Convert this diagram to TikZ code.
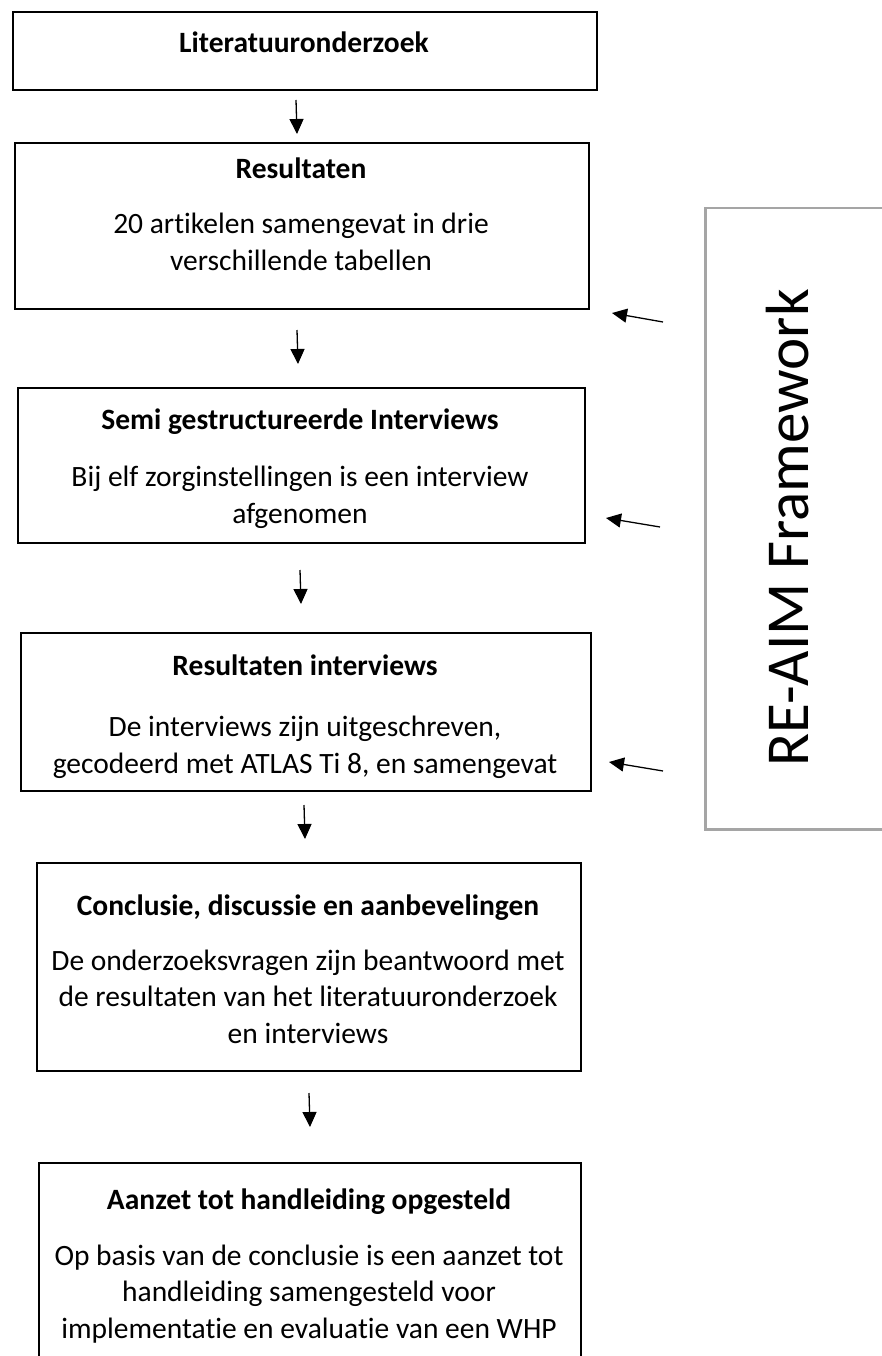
\documentclass[tikz,border=0pt]{standalone}
\usepackage{fontspec}
\setmainfont{Carlito}[Ligatures=CommonOff]
\usetikzlibrary{arrows.meta,calc}
\definecolor{frgray}{HTML}{A5A5A5}
\begin{document}
\begin{tikzpicture}[x=1pt,y=-1pt,
  box/.style={draw, line width=1.8pt, anchor=north west, inner sep=0pt},
  ttl/.style={anchor=base, inner sep=0pt, font=\fontsize{29.5}{36}\selectfont\bfseries},
  txt/.style={anchor=base, inner sep=0pt, align=center, font=\fontsize{29.5}{36.5}\selectfont},
  arr/.style={line width=1.3pt, -{Triangle[length=15pt,width=14pt]}},
]
\useasboundingbox (0,0) rectangle (881,1356);

% boxes
\node[box, minimum width=584pt, minimum height=78pt]  (b1) at (12,11) {};
\node[box, minimum width=574pt, minimum height=166pt] (b2) at (14,142) {};
\node[box, minimum width=567pt, minimum height=155pt] (b3) at (17,387) {};
\node[box, minimum width=570pt, minimum height=158pt] (b4) at (20,632) {};
\node[box, minimum width=544pt, minimum height=208pt] (b5) at (36,862) {};
\node[box, minimum width=542pt, minimum height=230pt] (b6) at (38,1162) {};
\node[draw=frgray, line width=2.5pt, anchor=north west, inner sep=0pt,
      minimum width=190pt, minimum height=621pt] (fw) at (704,207) {};

% texts (base of multi-line texts = baseline of their last line)
\node[ttl] (t1) at (304,53) {Literatuuronderzoek};
\node[ttl] (t2) at (301,179) {Resultaten};
\node[txt] (d2) at (301,270) {20 artikelen samengevat in drie\\verschillende tabellen};
\node[ttl] (t3) at (300,429) {Semi gestructureerde Interviews};
\node[txt] (d3) at (300,523) {Bij elf zorginstellingen is een interview\\afgenomen};
\node[ttl] (t4) at (305,675) {Resultaten interviews};
\node[txt] (d4) at (305,773) {De interviews zijn uitgeschreven,\\gecodeerd met ATLAS Ti 8, en samengevat};
\node[ttl] (t5) at (308,915) {Conclusie, discussie en aanbevelingen};
\node[txt] (d5) at (308,1043) {De onderzoeksvragen zijn beantwoord met\\de resultaten van het literatuuronderzoek\\en interviews};
\node[ttl] (t6) at (309,1209) {Aanzet tot handleiding opgesteld};
\node[txt] (d6) at (309,1338) {Op basis van de conclusie is een aanzet tot\\handleiding samengesteld voor\\implementatie en evaluatie van een WHP};
\node[anchor=base, rotate=90, inner sep=0pt, font=\fontsize{61}{70}\selectfont] (fwt) at (808,528) {RE-AIM Framework};

% vertical arrows
\coordinate (a1s) at (296,100);  \coordinate (a1e) at (297,134);
\coordinate (a2s) at (297,330);  \coordinate (a2e) at (298,364);
\coordinate (a3s) at (300,570);  \coordinate (a3e) at (301,604);
\coordinate (a4s) at (304,805);  \coordinate (a4e) at (305,839);
\coordinate (a5s) at (309,1093); \coordinate (a5e) at (310,1127);
\draw[arr] (a1s) -- (a1e);
\draw[arr] (a2s) -- (a2e);
\draw[arr] (a3s) -- (a3e);
\draw[arr] (a4s) -- (a4e);
\draw[arr] (a5s) -- (a5e);

% framework arrows
\coordinate (f1s) at (663,322); \coordinate (f1e) at (612,313);
\coordinate (f2s) at (660,527); \coordinate (f2e) at (606,518);
\coordinate (f3s) at (663,771); \coordinate (f3e) at (609,762);
\draw[arr] (f1s) -- (f1e);
\draw[arr] (f2s) -- (f2e);
\draw[arr] (f3s) -- (f3e);
\end{tikzpicture}
\end{document}
